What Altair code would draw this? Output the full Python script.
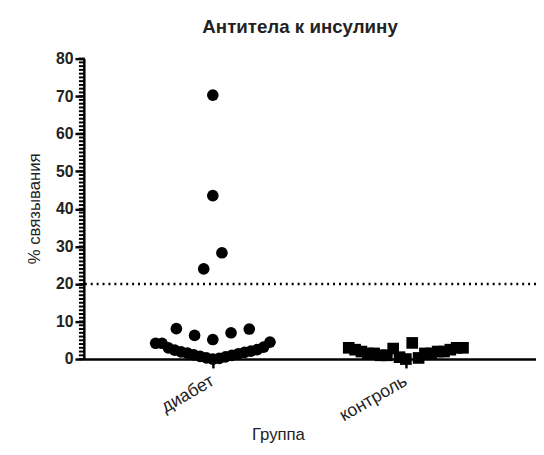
import math
import altair as alt
import pandas as pd

# ---- data ----
groups = ["диабет", "контроль"]
diabetes = [70.3, 43.5, 24.0, 28.3,
            5.2, 6.3, 7.0, 8.1, 8.0,
            0.0, 0.3, 0.2, 0.7, 0.6, 1.1, 1.0, 1.6, 1.4, 1.9, 1.8,
            2.4, 2.1, 3.0, 2.5, 4.2, 3.2, 4.2, 4.5]
control = [0.0, 0.5, 4.3, 2.8, 0.3, 1.0, 1.5, 1.0, 1.5, 1.5,
           2.0, 1.5, 2.0, 2.0, 2.5, 2.5, 3.0, 3.0, 3.0]
y_ticks = list(range(0, 81, 10))
y_minor = list(range(0, 81, 1))
threshold = 20
title = "Антитела к инсулину"
x_title = "Группа"
y_title = "% связывания"

# ---- layout ----
W, H = 459, 305
x_domain = [0.332, 2.674]
px_per_unit = W / (x_domain[1] - x_domain[0])


def swarm(values, bin_w=6.0, bin_start=-1.2, step=18.5, half=58.0):
    """Column-scatter offsets (px): points in the same value bin are spread
    side by side, alternating around the centre, compressed to fit."""
    bins = {}
    for i, v in enumerate(values):
        b = math.floor((v - bin_start) / bin_w)
        bins.setdefault(b, []).append(i)
    off = [0.0] * len(values)
    for idx in bins.values():
        n = len(idx)
        st = step if n < 2 else min(step, 2 * half / (n - 1))
        for k, i in enumerate(idx):
            if n % 2:
                slot = 0 if k == 0 else (-((k + 1) // 2) if k % 2 else k // 2)
            else:
                slot = -(k // 2 + 0.5) if k % 2 == 0 else (k // 2 + 0.5)
            off[i] = slot * st
    return off


rows = []
for gi, (g, vals) in enumerate(zip(groups, [diabetes, control])):
    for v, o in zip(vals, swarm(vals)):
        rows.append({"group": g, "pos": gi + 1 + o / px_per_unit, "value": v})
df = pd.DataFrame(rows)

label_expr = " : ".join(
    f"datum.value == {i + 1} ? '{g}'" for i, g in enumerate(groups[:-1])
) + f" : '{groups[-1]}'"

x_scale = alt.Scale(domain=x_domain, nice=False, zero=False)
y_scale = alt.Scale(domain=[0, 80], nice=False, zero=True)

x_axis = alt.Axis(values=[1, 2], labelExpr=label_expr, labelAngle=-30,
                  labelAlign="right", labelBaseline="top", labelFontSize=18,
                  labelPadding=4, labelOffset=-5, ticks=True, tickSize=9, tickWidth=2.5,
                  domainWidth=2.5, domainColor="black", tickColor="black",
                  labelColor="#222", labelOverlap=False, labelBound=False,
                  grid=False, title=x_title, titleFontSize=17,
                  titleFontWeight="normal", titleX=197, titleY=77,
                  titleBaseline="middle", titleAlign="center", titleColor="#222")
y_axis = alt.Axis(values=y_ticks, ticks=True, tickSize=9, tickWidth=2.5,
                  domainWidth=2.5, domainColor="black", tickColor="black",
                  labelFontSize=16, labelFontWeight="bold", labelPadding=2,
                  labelColor="#222", labelOverlap=False, labelBound=False,
                  grid=False, title=y_title, titleFontSize=17,
                  titleFontWeight="normal", titleX=-50, titleY=152,
                  titleAlign="center", titleBaseline="middle", titleColor="#222")

points = alt.Chart(df).mark_point(filled=True, opacity=1, size=140, color="black", clip=False).encode(
    x=alt.X("pos:Q", scale=x_scale, axis=x_axis),
    y=alt.Y("value:Q", scale=y_scale, axis=y_axis),
    shape=alt.Shape("group:N", scale=alt.Scale(domain=groups, range=["circle", "square"]),
                    legend=None),
)

# minor ticks of the y axis: short horizontal strokes just left of the axis line
minor = alt.Chart(pd.DataFrame({"value": y_minor})).mark_rule(
    stroke="#000000", strokeWidth=2, opacity=1, clip=False
).encode(
    y=alt.Y("value:Q", scale=y_scale, axis=y_axis),
    x=alt.value(-5),
    x2=alt.value(1),
)

thr = alt.Chart(pd.DataFrame({"value": [threshold]})).mark_rule(
    color="black", strokeWidth=2.5, strokeDash=[2, 4]
).encode(y=alt.Y("value:Q", scale=y_scale, axis=y_axis))

chart = alt.layer(points, thr, minor).properties(
    width=W, height=H,
    title=alt.TitleParams(title, fontSize=19, fontWeight="bold", dx=-10, offset=14,
                          color="#222"),
    autosize=alt.AutoSizeParams(type="none"),
    padding={"left": 77, "top": 48, "right": 0, "bottom": 94},
).configure(font="Liberation Sans").configure_view(stroke=None)

chart.save("out.html", embed_options={"renderer": "svg", "actions": False})
